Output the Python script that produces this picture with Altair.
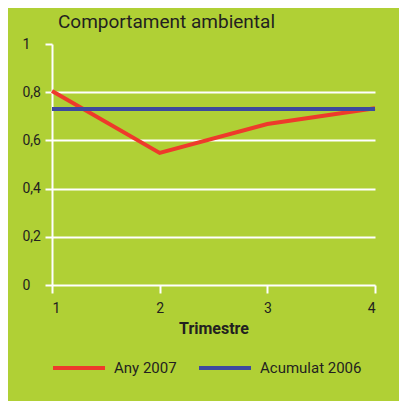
import altair as alt
import pandas as pd

trimestres = [1, 2, 3, 4]
any_2007 = [0.805, 0.548, 0.668, 0.733]
acumulat_2006 = [0.73, 0.73, 0.73, 0.73]
series_names = ["Any 2007", "Acumulat 2006"]
series_colors = ["#ee3a2b", "#3d4a9e"]

rows = []
for t, v in zip(trimestres, any_2007):
    rows.append({"Trimestre": t, "valor": v, "serie": series_names[0]})
for t, v in zip(trimestres, acumulat_2006):
    rows.append({"Trimestre": t, "valor": v, "serie": series_names[1]})
df = pd.DataFrame(rows)

FONT = "Roboto"
TXT = "#231f20"
BG = "#b0d035"

chart = alt.Chart(df).mark_line(strokeWidth=4).encode(
    x=alt.X("Trimestre:Q",
            scale=alt.Scale(domain=[1, 4], nice=False),
            axis=alt.Axis(values=trimestres, format="d", grid=False,
                          domainColor="white", domainWidth=2,
                          tickColor="white", tickWidth=2, tickSize=8,
                          labelFontSize=14, labelPadding=8, labelColor=TXT,
                          labelFont=FONT, title="Trimestre", titleFont=FONT,
                          titleFontSize=16, titleFontWeight="bold",
                          titleColor=TXT, titlePadding=5)),
    y=alt.Y("valor:Q",
            scale=alt.Scale(domain=[0, 1], nice=False),
            axis=alt.Axis(values=[0, 0.2, 0.4, 0.6, 0.8, 1],
                          labelExpr="replace(format(datum.value, '.1~f'), '.', ',')",
                          grid=True, gridColor="white", gridWidth=2,
                          gridOpacity={"condition": {"test": "datum.value == 1 || datum.value == 0", "value": 0}, "value": 1},
                          domainColor="white", domainWidth=2,
                          tickColor="white", tickWidth=2, tickSize=7,
                          labelFontSize=14, labelPadding=23, labelAlign="left",
                          labelColor=TXT, labelFont=FONT, title=None)),
    color=alt.Color("serie:N",
                    scale=alt.Scale(domain=series_names, range=series_colors),
                    sort=series_names,
                    legend=alt.Legend(title=None, orient="none", direction="horizontal",
                                      legendX=-1, legendY=296,
                                      symbolType="stroke", symbolSize=2704,
                                      symbolStrokeWidth=4, labelFont=FONT,
                                      labelFontSize=15, labelColor=TXT,
                                      labelOffset=7, columnPadding=14)),
).properties(
    width=323,
    height=241,
    background=BG,
    padding={"left": 44, "top": 36, "right": 24, "bottom": 116},
    autosize=alt.AutoSizeParams(type="none"),
    title=alt.TitleParams("Comportament ambiental", anchor="start", frame="group",
                          font=FONT, fontSize=19, fontWeight="normal",
                          color=TXT, dx=6, offset=5),
).configure_view(stroke=None)

chart.save("out.html", embed_options={"renderer": "svg", "actions": False})
